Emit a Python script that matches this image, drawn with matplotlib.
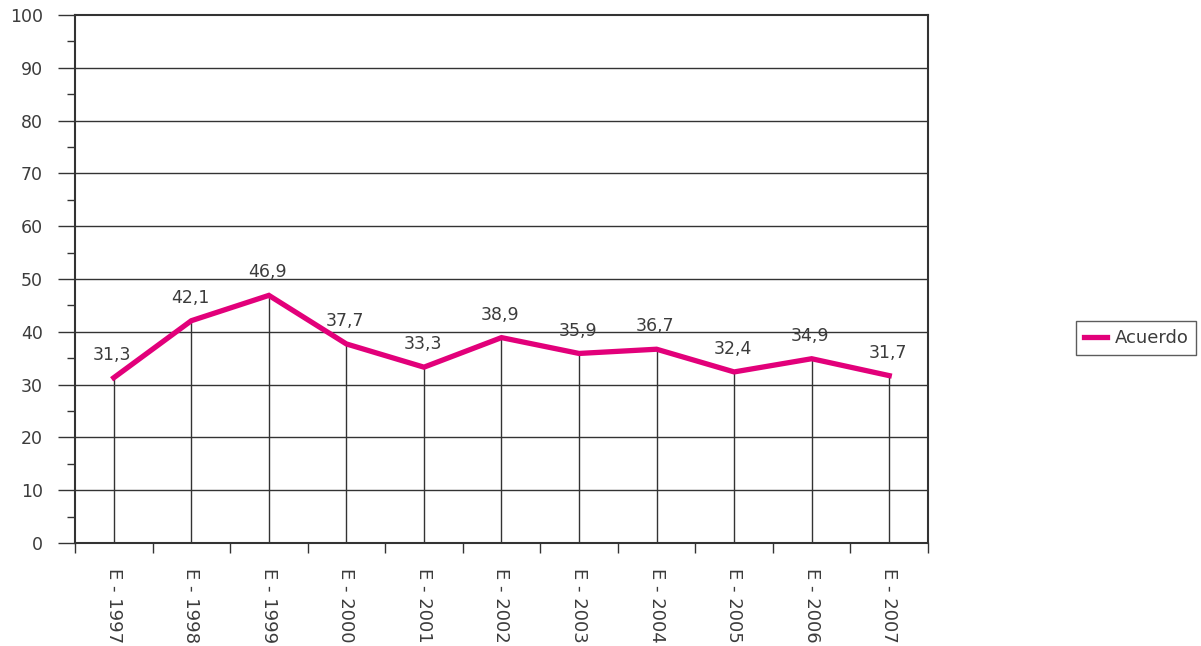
import numpy as np
import matplotlib.pyplot as plt

years = ['E - 1997', 'E - 1998', 'E - 1999', 'E - 2000', 'E - 2001', 'E - 2002',
         'E - 2003', 'E - 2004', 'E - 2005', 'E - 2006', 'E - 2007']
acuerdo = [31.3, 42.1, 46.9, 37.7, 33.3, 38.9, 35.9, 36.7, 32.4, 34.9, 31.7]

pink = '#E2007A'
grey = '#333333'
txt = '#3c3c3c'

plt.rcParams['font.family'] = ['DejaVu Sans']

fig = plt.figure(figsize=(12.01, 6.46), dpi=100)
ax = fig.add_axes([75 / 1201, 103 / 646, 853 / 1201, 528 / 646])

x = np.arange(len(years))

# grid lines and drop lines
for v in range(10, 100, 10):
    ax.axhline(v, color=grey, lw=1, zorder=1)
ax.vlines(x, 0, acuerdo, color=grey, lw=1, zorder=2)

line, = ax.plot(x, acuerdo, color=pink, lw=3.8, solid_joinstyle='miter', zorder=3, label='Acuerdo')

for xi, v in zip(x, acuerdo):
    ax.annotate(f'{v:.1f}'.replace('.', ','), (xi, v), xytext=(-1, 10),
                textcoords='offset points', ha='center', va='bottom',
                fontsize=12.5, color=txt)

ax.set_xlim(-0.5, len(years) - 0.5)
ax.set_ylim(0, 100)
ax.set_yticks(range(0, 101, 10))
ax.set_yticks(range(5, 100, 10), minor=True)
ax.set_xticks(x)
ax.set_xticklabels(years, rotation=-90, fontsize=13, color=txt)
ax.set_xticks(np.arange(-0.5, len(years), 1), minor=True)

ax.tick_params(axis='y', which='major', length=12, width=1, color=grey, pad=11,
               labelsize=12.5, labelcolor=txt)
ax.tick_params(axis='y', which='minor', length=6, width=1, color=grey)
ax.tick_params(axis='x', which='major', length=0, pad=18)
ax.tick_params(axis='x', which='minor', length=7, width=1, color=grey)

for s in ax.spines.values():
    s.set_color(grey)
    s.set_linewidth(1.5)

leg = fig.legend(handles=[line], loc='center', bbox_to_anchor=(1136 / 1201, 1 - 338 / 646),
                 fontsize=13, frameon=True, fancybox=False, handlelength=1.3,
                 handletextpad=0.4, borderpad=0.45)
leg.get_frame().set_edgecolor(grey)
leg.get_frame().set_linewidth(1)
for t in leg.get_texts():
    t.set_color(txt)

plt.savefig('out.png', dpi=100)
